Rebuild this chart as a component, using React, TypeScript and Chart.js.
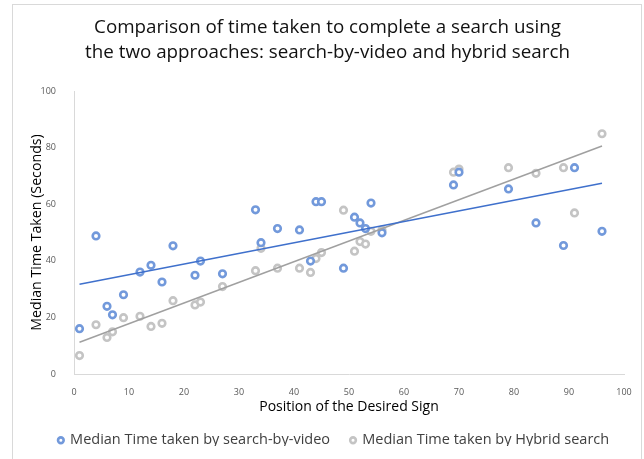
import React, { useEffect, useRef } from "react";
import { Chart, registerables } from "chart.js";

Chart.register(...registerables);

const positions = [1, 4, 6, 7, 9, 12, 14, 16, 18, 22, 23, 27, 33, 34, 37, 41, 43, 44, 45, 49, 51, 52, 53, 54, 56, 69, 70, 79, 84, 89, 91, 96];
const videoTimes = [16, 48.8, 23.9, 20.9, 28, 36, 38.4, 32.5, 45.3, 34.9, 39.9, 35.4, 58, 46.4, 51.4, 50.9, 39.9, 60.9, 60.9, 37.4, 55.4, 53.4, 51.4, 60.4, 49.9, 66.8, 71.3, 65.4, 53.4, 45.4, 72.9, 50.4];
const hybridTimes = [6.5, 17.4, 12.9, 14.9, 19.9, 20.4, 16.8, 17.9, 25.9, 24.4, 25.4, 30.9, 36.5, 44.4, 37.4, 37.4, 35.9, 40.8, 42.9, 57.9, 43.4, 46.8, 45.9, 50.4, 50.9, 71.3, 72.4, 72.9, 70.9, 72.9, 56.9, 84.9];

const seriesLabels = ["Median Time taken by search-by-video", "Median Time taken by Hybrid search"];
const titleLines = ["Comparison of time taken to complete a search using", "the two approaches: search-by-video and hybrid search"];
const xTitle = "Position of the Desired Sign";
const yTitle = "Median Time Taken (Seconds)";

const FONT = "'Open Sans', sans-serif";

function trend(xs: number[], ys: number[]) {
  const n = xs.length;
  const mx = xs.reduce((a, b) => a + b, 0) / n;
  const my = ys.reduce((a, b) => a + b, 0) / n;
  let sxy = 0, sxx = 0;
  for (let i = 0; i < n; i++) {
    sxy += (xs[i] - mx) * (ys[i] - my);
    sxx += (xs[i] - mx) * (xs[i] - mx);
  }
  const b = sxy / sxx;
  const a = my - b * mx;
  const x0 = Math.min(...xs), x1 = Math.max(...xs);
  return [{ x: x0, y: a + b * x0 }, { x: x1, y: a + b * x1 }];
}

const frame = {
  id: "frame",
  afterLayout(chart: any) {
    const l = chart.legend;
    if (l) {
      l.top -= 11;
      l.bottom -= 11;
      l.left += 15;
      l.right += 15;
    }
    const t = chart.titleBlock;
    if (t) {
      t.left += 8.5;
      t.right += 8.5;
    }
  },
  beforeDraw(chart: any) {
    const ctx = chart.ctx;
    ctx.save();
    ctx.fillStyle = "#ffffff";
    ctx.fillRect(0, 0, chart.width, chart.height);
    ctx.strokeStyle = "#d9d9d9";
    ctx.lineWidth = 1;
    ctx.strokeRect(12.5, 4.5, 629, 520);
    ctx.restore();
  },
};

export default function App() {
  const ref = useRef<HTMLCanvasElement>(null);
  useEffect(() => {
    if (!ref.current) return;
    const blue = "#7299DB";
    const grey = "#C4C4C4";
    const chart = new Chart(ref.current, {
      type: "scatter",
      data: {
        datasets: [
          {
            label: seriesLabels[0],
            data: positions.map((x, i) => ({ x, y: videoTimes[i] })),
            pointStyle: "circle",
            pointRadius: 3.3,
            pointBorderWidth: 2.6,
            borderWidth: 2.6,
            borderColor: blue,
            backgroundColor: "#ffffff",
            pointBackgroundColor: "#ffffff",
            order: 2,
          },
          {
            label: seriesLabels[1],
            data: positions.map((x, i) => ({ x, y: hybridTimes[i] })),
            pointStyle: "circle",
            pointRadius: 3.3,
            pointBorderWidth: 2.6,
            borderWidth: 2.6,
            borderColor: grey,
            backgroundColor: "#ffffff",
            pointBackgroundColor: "#ffffff",
            order: 2,
          },
          {
            type: "line",
            label: "trend-video",
            data: trend(positions, videoTimes),
            borderColor: "#3F70CC",
            borderWidth: 1.5,
            pointRadius: 0,
            showLine: true,
            fill: false,
            order: 0,
          } as any,
          {
            type: "line",
            label: "trend-hybrid",
            data: trend(positions, hybridTimes),
            borderColor: "#A0A0A0",
            borderWidth: 1.5,
            pointRadius: 0,
            showLine: true,
            fill: false,
            order: 0,
          } as any,
        ],
      },
      options: {
        animation: false,
        responsive: false,
        layout: { padding: { left: 14, right: 20, top: 0, bottom: 2 } },
        plugins: {
          tooltip: { enabled: false },
          title: {
            display: true,
            text: titleLines,
            color: "#111111",
            font: { family: FONT, size: 18.8, weight: "normal", lineHeight: "25.6px" },
            padding: { top: 14.4, bottom: 25.4 },
          },
          legend: {
            display: true,
            position: "bottom",
            maxHeight: 34,
            labels: {
              filter: (item: any) => item.datasetIndex < 2,
              usePointStyle: true,
              boxWidth: 4,
              boxHeight: 4,
              padding: 21,
              color: "#404040",
              font: { family: FONT, size: 14.5 },
            },
          },
        },
        scales: {
          x: {
            type: "linear",
            min: 0,
            max: 100,
            afterFit: (s: any) => { s.height = 49; },
            grid: { display: false },
            border: { display: true, color: "#d9d9d9", width: 1 },
            ticks: { stepSize: 10, color: "#595959", padding: 5, font: { family: FONT, size: 9 }, maxRotation: 0 },
            title: {
              display: true,
              text: xTitle,
              color: "#000000",
              font: { family: FONT, size: 14, lineHeight: 1.2 },
              padding: { top: 0, bottom: 7.6 },
            },
          },
          y: {
            type: "linear",
            min: 0,
            max: 100,
            afterFit: (s: any) => { s.width = 60; },
            grid: { display: false },
            border: { display: true, color: "#d9d9d9", width: 1 },
            ticks: { stepSize: 20, color: "#595959", padding: 10, font: { family: FONT, size: 9 } },
            title: {
              display: true,
              text: yTitle,
              color: "#000000",
              font: { family: FONT, size: 14.2, lineHeight: 1.2 },
              padding: { top: 14.8, bottom: 0 },
            },
          },
        },
      },
      plugins: [frame],
    } as any);
    return () => chart.destroy();
  }, []);
  return (
    <div style={{ position: "fixed", left: 0, top: 0, width: 644, height: 459, overflow: "hidden", background: "#fff" }}>
      <canvas ref={ref} width={644} height={459} style={{ display: "block", width: 644, height: 459 }} />
    </div>
  );
}
